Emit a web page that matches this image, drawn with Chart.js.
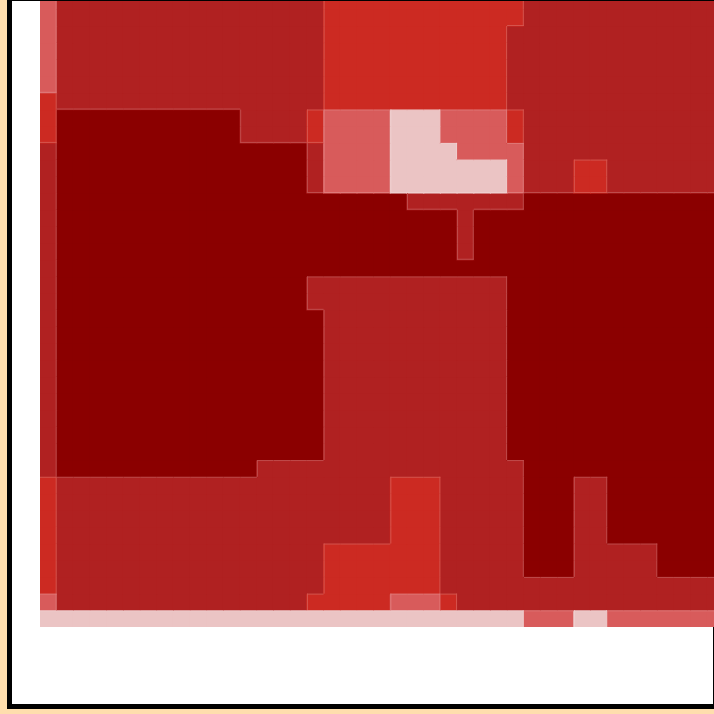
<!DOCTYPE html>
<html>
<head>
<meta charset="utf-8">
<script src="https://cdn.jsdelivr.net/npm/chart.js@4"></script>
<style>
  html, body { margin: 0; padding: 0; width: 714px; height: 714px; overflow: hidden; background: #ffdead; }
  #frame { position: absolute; left: 7px; top: -4px; width: 701px; height: 703px; border: 5px solid #000; background: #fff; }
  #heat { position: absolute; left: 0; top: 0; }
</style>
</head>
<body>
<div id="frame"></div>
<canvas id="heat" width="724" height="714"></canvas>
<script>
// level of each cell, top row first (0 = lightest, 4 = darkest)
const levelRows = [
  "13333333333333333222222222222333333333333",
  "13333333333333333222222222222333333333333",
  "13333333333333333222222222223333333333333",
  "13333333333333333222222222223333333333333",
  "13333333333333333222222222223333333333333",
  "13333333333333333222222222223333333333333",
  "23333333333333333222222222223333333333333",
  "24444444444433332111100011112333333333333",
  "24444444444433332111100011112333333333333",
  "34444444444444443111100001111333333333333",
  "34444444444444443111100000001333223333333",
  "34444444444444443111100000001333223333333",
  "34444444444444444444443333333444444444444",
  "34444444444444444444444443444444444444444",
  "34444444444444444444444443444444444444444",
  "34444444444444444444444443444444444444444",
  "34444444444444444444444444444444444444444",
  "34444444444444443333333333334444444444444",
  "34444444444444443333333333334444444444444",
  "34444444444444444333333333334444444444444",
  "34444444444444444333333333334444444444444",
  "34444444444444444333333333334444444444444",
  "34444444444444444333333333334444444444444",
  "34444444444444444333333333334444444444444",
  "34444444444444444333333333334444444444444",
  "34444444444444444333333333334444444444444",
  "34444444444444444333333333334444444444444",
  "34444444444444444333333333334444444444444",
  "34444444444443333333333333333444444444444",
  "23333333333333333333322233333444334444444",
  "23333333333333333333322233333444334444444",
  "23333333333333333333322233333444334444444",
  "23333333333333333333322233333444334444444",
  "23333333333333333222222233333444333334444",
  "23333333333333333222222233333444333334444",
  "23333333333333333222222233333333333333333",
  "13333333333333332222211123333333333333333",
  "00000000000000000000000000000111001111111"
];
const palette = ["#ebc4c4", "#d85b5b", "#cc2a22", "#b02121", "#8b0000"];
const yTop = 37.5;

levelRows.forEach((row, i) => {
  if (row.length !== 41) throw new Error("row " + i + " has " + row.length + " cells");
});

const columns = levelRows[0].split("").map((_, i) => String(i + 1));
const grid = levelRows.map(row => row.split("").map(Number));
const nRows = levelRows.length;

function tint(hex, amt) {
  const n = parseInt(hex.slice(1), 16);
  const mix = v => Math.round(v + (255 - v) * amt);
  return "rgb(" + mix(n >> 16) + "," + mix((n >> 8) & 255) + "," + mix(n & 255) + ")";
}

const datasets = levelRows.map((row, i) => {
  const y0 = nRows - 1 - i;
  return {
    label: "row " + (y0 + 1),
    data: columns.map(() => [y0, y0 + 1]),
    backgroundColor: ctx => palette[grid[i][ctx.dataIndex]],
    borderWidth: 0,
    inflateAmount: 0.6,
    barPercentage: 1,
    categoryPercentage: 1,
    grouped: false
  };
});

// thin light edge where two levels meet, drawn on the lighter side
const edgeLines = {
  id: "edgeLines",
  afterDatasetsDraw(chart) {
    const { ctx, chartArea, scales: { x, y } } = chart;
    const colEdge = c => (x.getPixelForValue(c - 1) + x.getPixelForValue(c)) / 2;
    ctx.save();
    ctx.beginPath();
    ctx.rect(chartArea.left, chartArea.top, chartArea.right - chartArea.left, chartArea.bottom - chartArea.top);
    ctx.clip();
    ctx.lineWidth = 1;
    for (let i = 0; i < nRows; i++) {
      const y0 = nRows - 1 - i;
      const top = y.getPixelForValue(y0 + 1), bottom = y.getPixelForValue(y0);
      for (let c = 0; c < columns.length; c++) {
        const v = grid[i][c];
        const left = c === 0 ? x.left : colEdge(c);
        const right = c === columns.length - 1 ? x.right : colEdge(c + 1);
        ctx.strokeStyle = tint(palette[v], 0.2);
        if (c + 1 < columns.length && grid[i][c + 1] > v) {
          ctx.beginPath(); ctx.moveTo(right - 0.5, top); ctx.lineTo(right - 0.5, bottom); ctx.stroke();
        }
        if (c > 0 && grid[i][c - 1] > v) {
          ctx.beginPath(); ctx.moveTo(left + 0.5, top); ctx.lineTo(left + 0.5, bottom); ctx.stroke();
        }
        if (i > 0 && grid[i - 1][c] > v) {
          ctx.beginPath(); ctx.moveTo(left, top + 0.5); ctx.lineTo(right, top + 0.5); ctx.stroke();
        }
        if (i + 1 < nRows && grid[i + 1][c] > v) {
          ctx.beginPath(); ctx.moveTo(left, bottom - 0.5); ctx.lineTo(right, bottom - 0.5); ctx.stroke();
        }
      }
    }
    ctx.restore();
  }
};

const ctx = document.getElementById("heat");
new Chart(ctx, {
  type: "bar",
  data: { labels: columns, datasets: datasets },
  options: {
    responsive: false,
    animation: false,
    layout: { padding: { left: 40, top: 1, right: 0, bottom: 87 } },
    plugins: { legend: { display: false }, tooltip: { enabled: false } },
    scales: {
      x: { display: false, grid: { display: false } },
      y: { display: false, min: 0, max: yTop, grid: { display: false } }
    }
  },
  plugins: [edgeLines]
});
</script>
</body>
</html>
